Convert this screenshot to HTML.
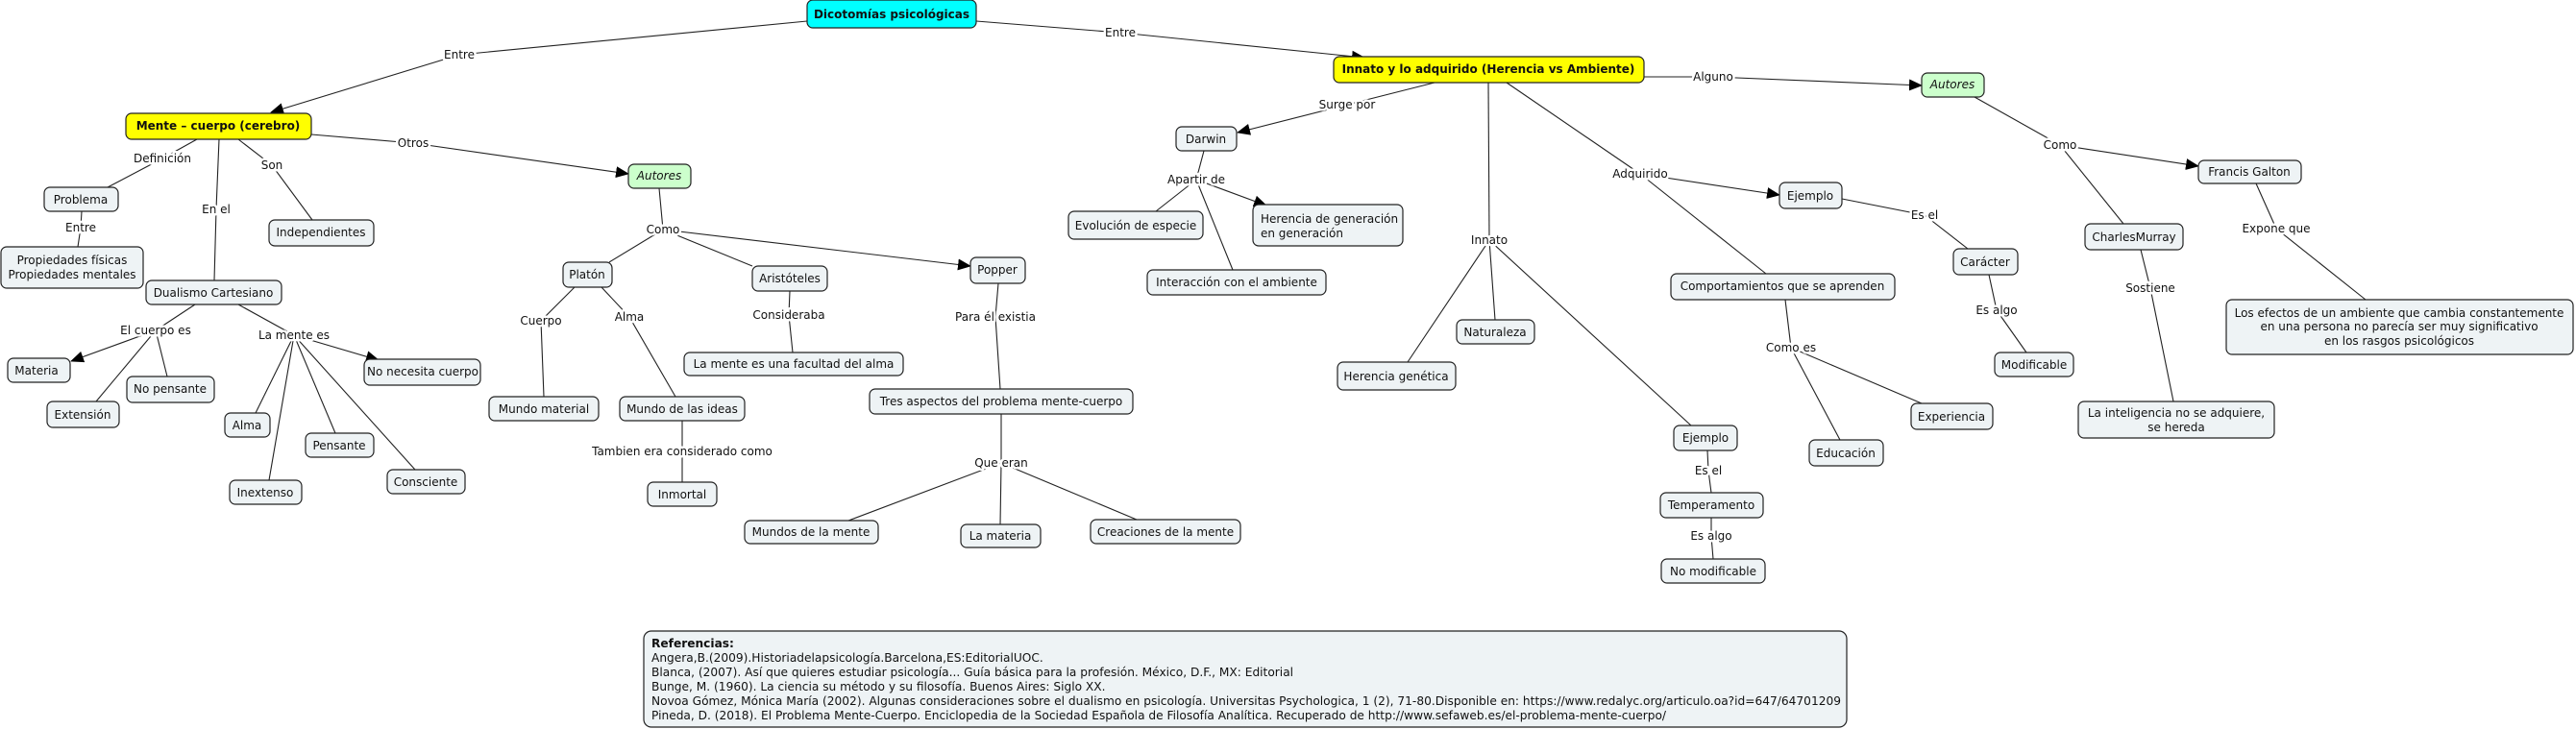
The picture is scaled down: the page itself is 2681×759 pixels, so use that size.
<!DOCTYPE html>
<html><head><meta charset="utf-8"><style>
html,body{margin:0;padding:0;background:#fff;}
svg{display:block;font-family:"DejaVu Sans","Liberation Sans",sans-serif;font-size:12px;}
.n{fill:#eef3f5;stroke:#222;stroke-width:1.2;}
.y{fill:#ffff00;stroke:#222;stroke-width:1.2;}
.c{fill:#00ffff;stroke:#222;stroke-width:1.2;}
.g{fill:#ccffcc;stroke:#222;stroke-width:1.2;}
.e{fill:none;stroke:#222;stroke-width:1.1;}
text{fill:#111;dominant-baseline:central;text-anchor:middle;}
.l{stroke:#fff;stroke-width:5;paint-order:stroke;stroke-linejoin:round;}
.b{font-weight:bold;}
.ref{text-anchor:start;font-size:12.2px;}
</style></head><body>
<svg width="2681" height="759" viewBox="0 0 2681 759" xmlns="http://www.w3.org/2000/svg">
<defs><marker id="a" markerWidth="14" markerHeight="12" refX="13" refY="6" orient="auto" markerUnits="userSpaceOnUse"><path d="M0,0 L14,6 L0,12 z" fill="#000"/></marker></defs>
<g class="e">
<polyline points="840,22 478,57"/><polyline points="478,57 282,117" marker-end="url(#a)"/>
<polyline points="1016,22 1166,34"/><polyline points="1166,34 1420,60" marker-end="url(#a)"/>
<polyline points="324,140 430,149"/><polyline points="430,149 654,181" marker-end="url(#a)"/>
<polyline points="205,145 169,165 112,195"/>
<polyline points="248,145 283,172 325,229"/>
<polyline points="228,145 225,218 223,292"/>
<polyline points="85,220 84,237 81,257"/>
<polyline points="203,317 162,344"/><polyline points="162,344 74,376" marker-end="url(#a)"/>
<polyline points="162,344 100,418"/><polyline points="162,344 174,392"/>
<polyline points="248,317 306,349"/><polyline points="306,349 394,375" marker-end="url(#a)"/>
<polyline points="306,349 266,430"/><polyline points="306,349 280,500"/><polyline points="306,349 349,451"/><polyline points="306,349 432,489"/>
<polyline points="686,196 690,239"/><polyline points="690,239 634,273"/><polyline points="690,239 783,277"/><polyline points="690,239 1010,277" marker-end="url(#a)"/>
<polyline points="598,299 563,334 566,413"/>
<polyline points="626,299 655,330 703,413"/>
<polyline points="710,438 710,470 710,502"/>
<polyline points="822,303 821,328 825,367"/>
<polyline points="1039,295 1036,330 1041,405"/>
<polyline points="1042,431 1042,482"/><polyline points="1042,482 883,542"/><polyline points="1042,482 1041,546"/><polyline points="1042,482 1183,541"/>
<polyline points="1493,86 1402,109"/><polyline points="1402,109 1288,138" marker-end="url(#a)"/>
<polyline points="1549,86 1550,250"/><polyline points="1550,250 1465,377"/><polyline points="1550,250 1556,333"/><polyline points="1550,250 1760,443"/>
<polyline points="1568,86 1707,181"/><polyline points="1707,181 1852,203" marker-end="url(#a)"/><polyline points="1707,181 1838,285"/>
<polyline points="1711,80 1783,80"/><polyline points="1783,80 2000,89" marker-end="url(#a)"/>
<polyline points="1253,157 1245,187"/><polyline points="1245,187 1203,220"/><polyline points="1245,187 1318,214" marker-end="url(#a)"/><polyline points="1245,187 1283,281"/>
<polyline points="1777,469 1778,490 1781,513"/>
<polyline points="1781,539 1781,558 1783,582"/>
<polyline points="1917,207 2003,224 2048,259"/>
<polyline points="2070,286 2078,323 2109,367"/>
<polyline points="1858,312 1864,362"/><polyline points="1864,362 1915,458"/><polyline points="1864,362 2000,420"/>
<polyline points="2055,101 2144,151"/><polyline points="2144,151 2288,173" marker-end="url(#a)"/><polyline points="2144,151 2210,233"/>
<polyline points="2348,191 2369,238 2462,312"/>
<polyline points="2228,260 2238,300 2262,418"/>
</g>
<g class="l">
<text x="478" y="57">Entre</text><text x="1166" y="34">Entre</text>
<text x="430" y="149">Otros</text><text x="169" y="165">Definición</text><text x="283" y="172">Son</text>
<text x="225" y="218">En el</text><text x="84" y="237">Entre</text>
<text x="162" y="344">El cuerpo es</text><text x="306" y="349">La mente es</text>
<text x="690" y="239">Como</text><text x="563" y="334">Cuerpo</text><text x="655" y="330">Alma</text>
<text x="710" y="470">Tambien era considerado como</text><text x="821" y="328">Consideraba</text>
<text x="1036" y="330">Para él existia</text><text x="1042" y="482">Que eran</text>
<text x="1402" y="109">Surge por</text><text x="1245" y="187">Apartir de</text>
<text x="1550" y="250">Innato</text><text x="1707" y="181">Adquirido</text><text x="1783" y="80">Alguno</text>
<text x="1778" y="490">Es el</text><text x="1781" y="558">Es algo</text>
<text x="2003" y="224">Es el</text><text x="2078" y="323">Es algo</text><text x="1864" y="362">Como es</text>
<text x="2144" y="151">Como</text><text x="2369" y="238">Expone que</text><text x="2238" y="300">Sostiene</text>
</g>
<rect class="c" x="840" y="0" width="176" height="29" rx="6"/><text class="b" x="928" y="15">Dicotomías psicológicas</text>
<rect class="y" x="131" y="118" width="193" height="27" rx="6"/><text class="b" x="227" y="131">Mente – cuerpo (cerebro)</text>
<rect class="y" x="1388" y="59" width="323" height="27" rx="6"/><text class="b" x="1549" y="72">Innato y lo adquirido (Herencia vs Ambiente)</text>
<rect class="g" x="654" y="171" width="65" height="25" rx="6"/><text x="686" y="183" font-style="italic">Autores</text>
<rect class="g" x="2000" y="76" width="65" height="25" rx="6"/><text x="2032" y="88" font-style="italic">Autores</text>

<rect class="n" x="46" y="195" width="77" height="25" rx="6"/><text x="84" y="208">Problema</text>
<rect class="n" x="1" y="257" width="148" height="43" rx="6"/><text x="75" y="271">Propiedades físicas</text><text x="75" y="286">Propiedades mentales</text>
<rect class="n" x="280" y="229" width="109" height="27" rx="6"/><text x="334" y="242">Independientes</text>
<rect class="n" x="152" y="292" width="141" height="25" rx="6"/><text x="222" y="305">Dualismo Cartesiano</text>
<rect class="n" x="8" y="373" width="65" height="25" rx="6"/><text x="38" y="386">Materia</text>
<rect class="n" x="132" y="392" width="91" height="27" rx="6"/><text x="177" y="405">No pensante</text>
<rect class="n" x="49" y="418" width="75" height="27" rx="6"/><text x="86" y="432">Extensión</text>
<rect class="n" x="234" y="430" width="47" height="25" rx="6"/><text x="257" y="443">Alma</text>
<rect class="n" x="318" y="451" width="71" height="25" rx="6"/><text x="353" y="464">Pensante</text>
<rect class="n" x="403" y="489" width="81" height="25" rx="6"/><text x="443" y="502">Consciente</text>
<rect class="n" x="239" y="500" width="75" height="25" rx="6"/><text x="276" y="513">Inextenso</text>
<rect class="n" x="379" y="374" width="121" height="27" rx="6"/><text x="440" y="387">No necesita cuerpo</text>

<rect class="n" x="586" y="273" width="51" height="26" rx="6"/><text x="611" y="286">Platón</text>
<rect class="n" x="783" y="277" width="78" height="26" rx="6"/><text x="822" y="290">Aristóteles</text>
<rect class="n" x="1010" y="268" width="57" height="27" rx="6"/><text x="1038" y="281">Popper</text>
<rect class="n" x="509" y="413" width="114" height="25" rx="6"/><text x="566" y="426">Mundo material</text>
<rect class="n" x="645" y="413" width="130" height="25" rx="6"/><text x="710" y="426">Mundo de las ideas</text>
<rect class="n" x="674" y="502" width="72" height="25" rx="6"/><text x="710" y="515">Inmortal</text>
<rect class="n" x="712" y="367" width="228" height="24" rx="6"/><text x="826" y="379">La mente es una facultad del alma</text>
<rect class="n" x="905" y="405" width="274" height="26" rx="6"/><text x="1042" y="418">Tres aspectos del problema mente-cuerpo</text>
<rect class="n" x="775" y="542" width="139" height="24" rx="6"/><text x="844" y="554">Mundos de la mente</text>
<rect class="n" x="1000" y="546" width="83" height="24" rx="6"/><text x="1041" y="558">La materia</text>
<rect class="n" x="1135" y="541" width="156" height="25" rx="6"/><text x="1213" y="554">Creaciones de la mente</text>

<rect class="n" x="1224" y="132" width="63" height="25" rx="6"/><text x="1255" y="145">Darwin</text>
<rect class="n" x="1112" y="220" width="140" height="29" rx="6"/><text x="1182" y="235">Evolución de especie</text>
<rect class="n" x="1304" y="213" width="156" height="43" rx="6"/><text x="1312" y="228" style="text-anchor:start">Herencia de generación</text><text x="1312" y="243" style="text-anchor:start"> en generación</text>
<rect class="n" x="1194" y="281" width="186" height="26" rx="6"/><text x="1287" y="294">Interacción con el ambiente</text>
<rect class="n" x="1392" y="377" width="123" height="29" rx="6"/><text x="1453" y="392">Herencia genética</text>
<rect class="n" x="1516" y="333" width="81" height="25" rx="6"/><text x="1556" y="346">Naturaleza</text>
<rect class="n" x="1742" y="443" width="66" height="26" rx="6"/><text x="1775" y="456">Ejemplo</text>
<rect class="n" x="1728" y="513" width="107" height="26" rx="6"/><text x="1781" y="526">Temperamento</text>
<rect class="n" x="1729" y="582" width="108" height="25" rx="6"/><text x="1783" y="595">No modificable</text>
<rect class="n" x="1739" y="285" width="233" height="27" rx="6"/><text x="1855" y="298">Comportamientos que se aprenden</text>
<rect class="n" x="1852" y="190" width="65" height="27" rx="6"/><text x="1884" y="204">Ejemplo</text>
<rect class="n" x="1883" y="458" width="77" height="27" rx="6"/><text x="1921" y="472">Educación</text>
<rect class="n" x="1989" y="420" width="85" height="27" rx="6"/><text x="2031" y="434">Experiencia</text>
<rect class="n" x="2033" y="259" width="67" height="27" rx="6"/><text x="2066" y="273">Carácter</text>
<rect class="n" x="2076" y="367" width="82" height="25" rx="6"/><text x="2117" y="380">Modificable</text>
<rect class="n" x="2288" y="167" width="107" height="24" rx="6"/><text x="2341" y="179">Francis Galton</text>
<rect class="n" x="2170" y="233" width="102" height="27" rx="6"/><text x="2221" y="247">CharlesMurray</text>
<rect class="n" x="2317" y="312" width="361" height="57" rx="6"/><text x="2497" y="326">Los efectos de un ambiente que cambia constantemente</text><text x="2497" y="340">en una persona no parecía ser muy significativo</text><text x="2497" y="355">en los rasgos psicológicos</text>
<rect class="n" x="2163" y="418" width="204" height="38" rx="6"/><text x="2265" y="430">La inteligencia no se adquiere,</text><text x="2265" y="445">se hereda</text>

<rect class="n" x="670" y="657" width="1252" height="100" rx="8"/>
<text class="ref b" x="678" y="670">Referencias:</text>
<text class="ref" x="678" y="685">Angera,B.(2009).Historiadelapsicología.Barcelona,ES:EditorialUOC.</text>
<text class="ref" x="678" y="700">Blanca, (2007). Así que quieres estudiar psicología... Guía básica para la profesión. México, D.F., MX: Editorial</text>
<text class="ref" x="678" y="715">Bunge, M. (1960). La ciencia su método y su filosofía. Buenos Aires: Siglo XX.</text>
<text class="ref" x="678" y="730" textLength="1238" lengthAdjust="spacingAndGlyphs">Novoa Gómez, Mónica María (2002). Algunas consideraciones sobre el dualismo en psicología. Universitas Psychologica, 1 (2), 71-80.Disponible en: https://www.redalyc.org/articulo.oa?id=647/64701209</text>
<text class="ref" x="678" y="745">Pineda, D. (2018). El Problema Mente-Cuerpo. Enciclopedia de la Sociedad Española de Filosofía Analítica. Recuperado de http://www.sefaweb.es/el-problema-mente-cuerpo/</text>
</svg>
</body></html>
